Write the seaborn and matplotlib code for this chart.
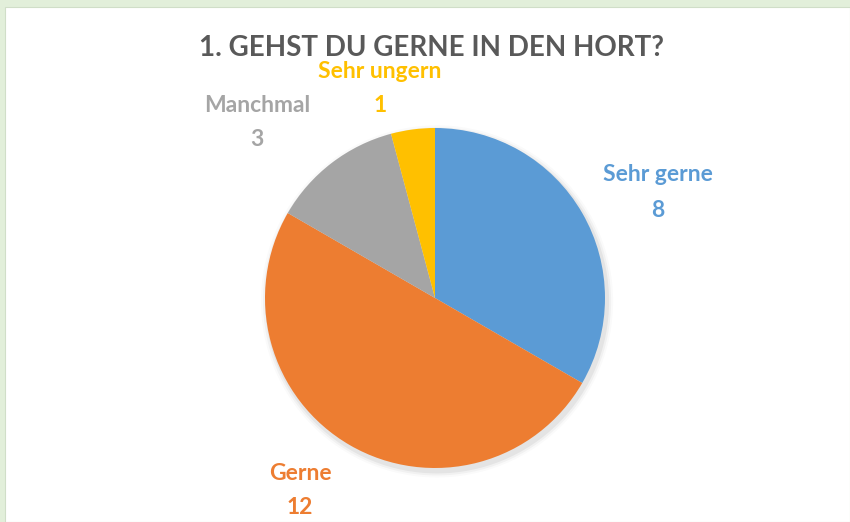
import matplotlib
matplotlib.use("Agg")
import matplotlib.pyplot as plt
import matplotlib.patches as mpatches
import seaborn as sns

categories = ["Sehr gerne", "Gerne", "Manchmal", "Sehr ungern"]
values = [8, 12, 3, 1]
colors = ["#5B9BD5", "#ED7D31", "#A5A5A5", "#FFC000"]
title = "1. GEHST DU GERNE IN DEN HORT?"

sns.set_theme(style="white")
plt.rcParams["font.family"] = ["Lato", "DejaVu Sans"]

W, H = 850, 522
fig = plt.figure(figsize=(W / 100, H / 100), dpi=100, facecolor="#E2EFDA")
# white chart area
bg = mpatches.Rectangle((5 / W, 0), 845 / W, (H - 7) / H,
                        transform=fig.transFigure, facecolor="white",
                        edgecolor="#D0DEC8", lw=0.8, zorder=-5)
fig.patches.append(bg)

cx, cy, r = 435, 298, 170
ax = fig.add_axes([(cx - r) / W, (H - cy - r) / H, 2 * r / W, 2 * r / H])
ax.set_zorder(1)
ax.patch.set_alpha(0)
ax.set_aspect("equal")
ax.axis("off")

# soft shadow
for i, a in enumerate([0.05, 0.035, 0.02]):
    ax.add_patch(mpatches.Circle((0.012, -0.02), 1.0 + 0.012 * (i + 1),
                                 facecolor="black", alpha=a, lw=0, zorder=0,
                                 clip_on=False))

wedges, _ = ax.pie(values, colors=colors, startangle=90, counterclock=False,
                   radius=1.0, wedgeprops=dict(linewidth=0))
for w in wedges:
    w.set_zorder(2)
ax.set_xlim(-1, 1)
ax.set_ylim(-1, 1)

fig.text(432 / W, 1 - 48 / H, title, ha="center", va="center",
         fontsize=20, fontweight="bold", color="#595959")

label_pos = [(658, 175, 210), (300, 474, 508), (257, 105, 140), (380, 72, 105)]
for cat, val, col, (x, y1, y2) in zip(categories, values, colors, label_pos):
    fig.text(x / W, 1 - y1 / H, cat, ha="center", va="center",
             fontsize=16.5, fontweight="bold", color=col)
    fig.text(x / W, 1 - y2 / H, str(val), ha="center", va="center",
             fontsize=16.5, fontweight="bold", color=col)

fig.savefig("out.png", dpi=100, facecolor=fig.get_facecolor())
